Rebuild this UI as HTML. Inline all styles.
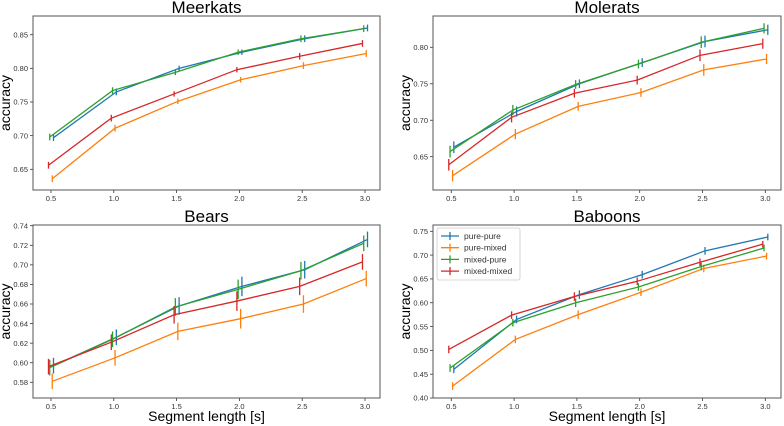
<!DOCTYPE html>
<html><head><meta charset="utf-8"><style>
body{margin:0;background:#fff;}
svg{display:block;font-family:"Liberation Sans","DejaVu Sans",sans-serif;}
</style></head><body>
<svg id="chart" width="784" height="426" viewBox="0 0 784 426" xmlns="http://www.w3.org/2000/svg"></svg>
<script>
const segLengths=[0.5,1.0,1.5,2.0,2.5,3.0];
const seriesNames=["pure-pure","pure-mixed","mixed-pure","mixed-mixed"];
const seriesColors=["#1f77b4","#ff7f0e","#2ca02c","#d62728"];
const meerkatsPP=[.697,.765,.800,.824,.844,.860];
const meerkatsPM=[.636,.711,.751,.783,.804,.822];
const meerkatsMP=[.698,.767,.794,.824,.844,.859];
const meerkatsMM=[.656,.726,.762,.798,.818,.837];
const moleratsPP=[.663,.712,.750,.779,.808,.824];
const moleratsPM=[.624,.681,.719,.738,.769,.784];
const moleratsMP=[.657,.714,.749,.777,.807,.826];
const moleratsMM=[.639,.704,.737,.755,.789,.805];
const bearsPP=[.597,.626,.658,.678,.695,.726];
const bearsPM=[.581,.605,.632,.645,.660,.686];
const bearsMP=[.595,.624,.657,.675,.694,.722];
const bearsMM=[.596,.621,.649,.663,.678,.703];
const baboonsPP=[.460,.565,.617,.659,.709,.738];
const baboonsPM=[.425,.523,.575,.622,.672,.698];
const baboonsMP=[.463,.558,.600,.633,.676,.715];
const baboonsMM=[.502,.574,.613,.645,.685,.723];
const meerkatsErr=[.005,.005,.004,.004,.005,.005];
const moleratsErr=[.008,.007,.006,.006,.008,.007];
const bearsErr=[.008,.008,.009,.010,.009,.008];
const baboonsErr=[.008,.008,.009,.008,.008,.007];
const xTicks=["0.5","1.0","1.5","2.0","2.5","3.0"];
const meerkatsYTicks=["0.65","0.70","0.75","0.80","0.85"];
const moleratsYTicks=["0.65","0.70","0.75","0.80"];
const bearsYTicks=["0.58","0.60","0.62","0.64","0.66","0.68","0.70","0.72","0.74"];
const baboonsYTicks=["0.40","0.45","0.50","0.55","0.60","0.65","0.70","0.75"];
const xOffsets=[0.02,0.01,-0.01,-0.02];

const NS="http://www.w3.org/2000/svg";
const svg=document.getElementById('chart');
function mk(tag,attrs,parent){const e=document.createElementNS(NS,tag);for(const k in attrs)e.setAttribute(k,attrs[k]);(parent||svg).appendChild(e);return e;}

const panels=[
 {key:"meerkats",title:"Meerkats",series:[meerkatsPP,meerkatsPM,meerkatsMP,meerkatsMM],err:meerkatsErr,yt:meerkatsYTicks,
  box:[33,16,380,190],xa:[0.5,51,3.0,365],ya:[0.85,34.7,0.65,169.3],xlabel:false,legend:false},
 {key:"molerats",title:"Molerats",series:[moleratsPP,moleratsPM,moleratsMP,moleratsMM],err:moleratsErr,yt:moleratsYTicks,
  box:[433,16,781,190],xa:[0.5,451.3,3.0,765.3],ya:[0.80,47.3,0.65,156.7],xlabel:false,legend:false},
 {key:"bears",title:"Bears",series:[bearsPP,bearsPM,bearsMP,bearsMM],err:bearsErr,yt:bearsYTicks,
  box:[33,225,380,398],xa:[0.5,51,3.0,365],ya:[0.74,225.7,0.58,382.3],xlabel:true,legend:false},
 {key:"baboons",title:"Baboons",series:[baboonsPP,baboonsPM,baboonsMP,baboonsMM],err:baboonsErr,yt:baboonsYTicks,
  box:[433,225,781,398],xa:[0.5,451.3,3.0,765.3],ya:[0.75,231.3,0.40,398],xlabel:true,legend:true}
];

panels.forEach(p=>{
 const g=mk('g',{});
 
 
 const [l,t,r,b]=p.box;
 const xs=v=>p.xa[1]+(v-p.xa[0])*(p.xa[3]-p.xa[1])/(p.xa[2]-p.xa[0]);
 const ys=v=>p.ya[1]+(v-p.ya[0])*(p.ya[3]-p.ya[1])/(p.ya[2]-p.ya[0]);
 const title=mk('text',{x:(l+r)/2,y:t-3,'text-anchor':'middle','font-size':17,fill:'#000'},g);
 title.textContent=p.title;
 
 
 // x ticks
 xTicks.forEach(s=>{const v=parseFloat(s),x=xs(v);
  mk('line',{x1:x,y1:b,x2:x,y2:b+3,stroke:'#333','stroke-width':0.8},g);
  const tx=mk('text',{x:x,y:b+11,'text-anchor':'middle','font-size':7.5,fill:'#333'},g);tx.textContent=s;
  
  
 });
 p.yt.forEach(s=>{const v=parseFloat(s),y=ys(v);
  mk('line',{x1:l-3,y1:y,x2:l,y2:y,stroke:'#333','stroke-width':0.8},g);
  const tx=mk('text',{x:l-5,y:y+2.7,'text-anchor':'end','font-size':7.5,fill:'#333'},g);tx.textContent=s;
  
  
 });
 const yl=mk('text',{x:0,y:0,'text-anchor':'middle','font-size':14,fill:'#000',transform:`translate(${l-23},${(t+b)/2}) rotate(-90)`},g);
 yl.textContent='accuracy';
 
 
 if(p.xlabel){const xl=mk('text',{x:(l+r)/2,y:b+23,'text-anchor':'middle','font-size':14,fill:'#000'},g);xl.textContent='Segment length [s]';
  
  }
 p.series.forEach((vals,i)=>{
  const col=seriesColors[i];
  const pts=vals.map((v,j)=>xs(segLengths[j]+xOffsets[i])+','+ys(v)).join(' ');
  const pl=mk('polyline',{points:pts,fill:'none',stroke:col,'stroke-width':1.3},g);
  
  
  vals.forEach((v,j)=>{const x=xs(segLengths[j]+xOffsets[i]);
   const eb=mk('line',{x1:x,y1:ys(v-p.err[j]),x2:x,y2:ys(v+p.err[j]),stroke:col,'stroke-width':1.3},g);
   
   
  });
 });
 mk('rect',{x:l,y:t,width:r-l,height:b-t,fill:'none',stroke:'#555','stroke-width':1},g);
 if(p.legend){
  const lg=mk('g',{},g);
  
  
  mk('rect',{x:437,y:228,width:83,height:52,fill:'#fff',stroke:'#ccc','stroke-width':0.8,rx:2},lg);
  seriesNames.forEach((n,i)=>{const y=236+i*11.7;
   const e=mk('g',{},lg);
   
   
   mk('line',{x1:441,y1:y,x2:459,y2:y,stroke:seriesColors[i],'stroke-width':1.3},e);
   mk('line',{x1:450,y1:y-4,x2:450,y2:y+4,stroke:seriesColors[i],'stroke-width':1.3},e);
   const tx=mk('text',{x:464,y:y+3,'font-size':8.5,fill:'#333'},e);tx.textContent=n;
  });
 }
});
</script>
</body></html>
